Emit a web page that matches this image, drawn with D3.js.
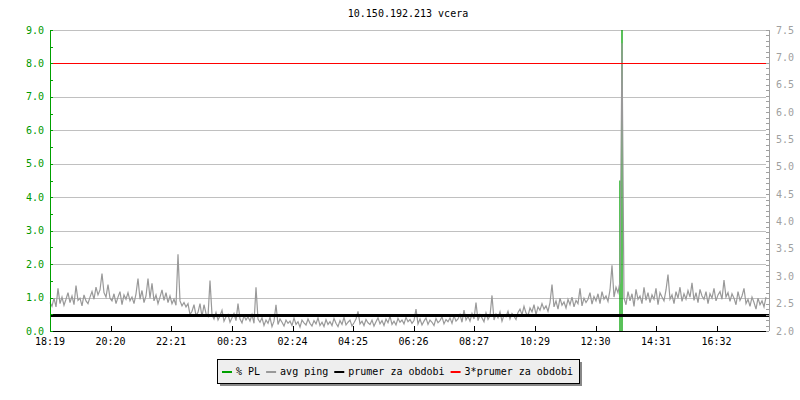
<!DOCTYPE html>
<html><head><meta charset="utf-8">
<script src="https://cdn.jsdelivr.net/npm/d3@7"></script>
<style>
body{margin:0;background:#fff}
svg{display:block}
text{font-family:"DejaVu Sans Mono","Liberation Mono",monospace;font-size:10px}
</style>
</head><body><svg id="c" width="800" height="400"></svg>
<script>
// ---------- data ----------
const chartTitle = "10.150.192.213 vcera";
const startDay = "2024-01-01";
const startClock = "18:19";
const stepMinutes = 4;
const spanMinutes = 1432;
const tickLabels = ["18:19","20:20","22:21","00:23","02:24","04:25","06:26","08:27","10:29","12:30","14:31","16:32"];
const leftTicks = [0,1,2,3,4,5,6,7,8,9];
const rightTicks = [2.0,2.5,3.0,3.5,4.0,4.5,5.0,5.5,6.0,6.5,7.0,7.5];
// avg ping (ms), right axis, one sample every 4 minutes
const avgPing = [
2.52,2.45,2.60,2.44,2.78,2.50,2.62,2.47,2.58,2.70,2.52,2.64,2.48,2.83,2.56,2.60,2.46,2.66,2.55,2.50,
2.62,2.72,2.58,2.80,2.66,2.75,3.05,2.70,2.62,2.85,2.60,2.55,2.68,2.50,2.62,2.72,2.48,2.66,2.58,2.70,
2.55,2.62,2.50,2.68,2.96,2.58,2.74,2.52,2.64,2.96,2.60,2.87,2.55,2.66,2.50,2.62,2.75,2.56,2.70,2.52,
2.64,2.50,2.58,2.47,3.40,2.55,2.46,2.52,2.44,2.50,2.30,2.36,2.48,2.28,2.34,2.50,2.26,2.48,2.32,2.27,
2.92,2.30,2.22,2.34,2.20,2.28,2.38,2.18,2.26,2.30,2.16,2.24,2.32,2.19,2.50,2.22,2.15,2.28,2.20,2.26,
2.18,2.30,2.14,2.80,2.22,2.16,2.24,2.10,2.20,2.14,2.25,2.08,2.18,2.48,2.12,2.22,2.16,2.09,2.20,2.14,
2.18,2.10,2.24,2.12,2.17,2.07,2.20,2.15,2.11,2.22,2.14,2.09,2.19,2.13,2.24,2.10,2.16,2.08,2.21,2.12,
2.17,2.10,2.23,2.14,2.08,2.19,2.12,2.25,2.11,2.16,2.20,2.09,2.15,2.22,2.36,2.13,2.18,2.10,2.21,2.15,
2.12,2.20,2.09,2.17,2.24,2.13,2.19,2.10,2.22,2.15,2.27,2.12,2.18,2.11,2.23,2.16,2.20,2.13,2.25,2.17,
2.21,2.14,2.19,2.40,2.13,2.22,2.11,2.18,2.24,2.12,2.20,2.16,2.10,2.23,2.15,2.19,2.26,2.13,2.21,2.17,
2.24,2.14,2.28,2.18,2.22,2.30,2.16,2.38,2.20,2.27,2.18,2.32,2.22,2.52,2.19,2.30,2.24,2.17,2.33,2.21,
2.28,2.65,2.20,2.31,2.24,2.35,2.18,2.29,2.26,2.36,2.22,2.32,2.27,2.21,2.34,2.40,2.30,2.45,2.33,2.28,
2.42,2.35,2.48,2.30,2.44,2.38,2.50,2.40,2.46,2.36,2.52,2.85,2.44,2.55,2.40,2.60,2.47,2.53,2.42,2.58,
2.48,2.62,2.44,2.56,2.50,2.78,2.46,2.60,2.52,2.58,2.70,2.49,2.63,2.55,2.68,2.50,2.72,2.58,2.64,2.54,
2.75,3.20,2.62,2.80,2.70,2.90,7.26,2.60,2.48,2.72,2.55,2.68,2.45,2.76,2.58,2.64,2.50,2.80,2.56,2.70,
2.52,2.66,2.58,2.78,2.48,2.70,2.62,2.55,2.75,3.03,2.58,2.66,2.50,2.72,2.60,2.80,2.54,2.68,2.58,2.74,
2.62,2.88,2.56,2.70,2.52,2.76,2.64,2.58,2.72,2.50,2.68,2.60,2.78,2.55,2.66,2.72,2.58,2.93,2.62,2.70,
2.54,2.68,2.60,2.48,2.72,2.56,2.64,2.78,2.50,2.58,2.45,2.62,2.52,2.40,2.60,2.48,2.55,2.44,2.62
];
// packet loss (%), left axis: only non-zero samples
const plMinutes = [1140, 1144];
const plValues = [4.5, 9.0];
const periodAvg = [2.285];   // prumer za obdobi (ms)
const tripleAvg = [6.90];    // 3*prumer za obdobi (ms)
const legendLabels = ["% PL","avg ping","prumer za obdobi","3*prumer za obdobi"];
const legendColors = ["#00a000","#999999","#000000","#ff0000"];

// ---------- chart ----------
const svg = d3.select("#c");
const parse = d3.timeParse("%Y-%m-%d %H:%M");
const t0 = parse(startDay + " " + startClock);
const addMin = m => new Date(t0.getTime() + m * 60000);

const x = d3.scaleTime().domain([t0, addMin(spanMinutes)]).range([50, 766]);
const yL = d3.scaleLinear().domain([0, 9]).range([331, 30]);
const yR = d3.scaleLinear().domain([2, 7.5]).range([331, 30]);

// tick dates from labels (wrap past midnight)
let prev = -1, dayOff = 0;
const [h0, m0] = startClock.split(":").map(Number);
const tickDates = tickLabels.map(l => {
  const [h, m] = l.split(":").map(Number);
  let mins = h * 60 + m;
  if (prev >= 0 && mins + dayOff < prev) dayOff += 1440;
  mins += dayOff; prev = mins;
  return addMin(mins - (h0 * 60 + m0));
});

const crisp = v => Math.round(v) + 0.5;

// title
svg.append("text").attr("x", 408).attr("y", 17).attr("text-anchor", "middle")
  .attr("fill", "#000").text(chartTitle);

// gridlines
svg.append("g").selectAll("line").data(leftTicks.filter(d => d > 0)).join("line")
  .attr("x1", 50).attr("x2", 766)
  .attr("y1", d => crisp(yL(d))).attr("y2", d => crisp(yL(d)))
  .attr("stroke", "#c0c0c0").attr("stroke-width", 1);

// packet loss spikes
svg.append("g").selectAll("line").data(plValues).join("line")
  .attr("x1", (d, i) => x(addMin(plMinutes[i]))).attr("x2", (d, i) => x(addMin(plMinutes[i])))
  .attr("y1", yL(0)).attr("y2", d => yL(d))
  .attr("stroke", legendColors[0]).attr("stroke-width", 1.3);

// avg ping line
const line = d3.line().x((d, i) => x(addMin(i * stepMinutes))).y(d => yR(d));
svg.append("path").datum(avgPing).attr("d", line)
  .attr("fill", "none").attr("stroke", legendColors[1]).attr("stroke-width", 1.2)
  .attr("stroke-linejoin", "miter");

// period average
svg.append("g").selectAll("line").data(periodAvg).join("line")
  .attr("x1", 50).attr("x2", 769)
  .attr("y1", d => yR(d)).attr("y2", d => yR(d))
  .attr("stroke", legendColors[2]).attr("stroke-width", 3);

// 3x average
svg.append("g").selectAll("line").data(tripleAvg).join("line")
  .attr("x1", 50).attr("x2", 766)
  .attr("y1", d => crisp(yR(d))).attr("y2", d => crisp(yR(d)))
  .attr("stroke", legendColors[3]).attr("stroke-width", 1);

// bottom axis
const gx = svg.append("g").attr("transform", "translate(0,331)");
gx.append("line").attr("x1", 50).attr("x2", 766).attr("y1", 0.5).attr("y2", 0.5).attr("stroke", "#000");
gx.selectAll(".tk").data(tickDates).join("line")
  .attr("x1", d => crisp(x(d))).attr("x2", d => crisp(x(d)))
  .attr("y1", -5).attr("y2", 0).attr("stroke", "#000");
gx.selectAll("text").data(tickDates).join("text")
  .attr("x", d => x(d)).attr("y", 14).attr("text-anchor", "middle")
  .attr("fill", "#000").text((d, i) => tickLabels[i]);

// left axis (green)
const gl = svg.append("g");
gl.append("line").attr("x1", 50.5).attr("x2", 50.5).attr("y1", 30).attr("y2", 331).attr("stroke", "#00a000");
const halfTicks = d3.range(0, 9.01, 0.5);
gl.selectAll(".t").data(halfTicks).join("line")
  .attr("x1", 50).attr("x2", 53)
  .attr("y1", d => crisp(yL(d))).attr("y2", d => crisp(yL(d)))
  .attr("stroke", "#00a000");
gl.selectAll("text").data(leftTicks).join("text")
  .attr("x", 44).attr("y", d => yL(d) + 3.5).attr("text-anchor", "end")
  .attr("fill", "#009900").text(d => d.toFixed(1));

// right axis (gray)
const gr = svg.append("g");
gr.append("line").attr("x1", 769.5).attr("x2", 769.5).attr("y1", 30).attr("y2", 331).attr("stroke", "#a0a0a0");
const minorR = d3.range(2.0, 7.501, 0.1);
gr.selectAll(".t").data(minorR).join("line")
  .attr("x1", 766).attr("x2", 769)
  .attr("y1", d => crisp(yR(d))).attr("y2", d => crisp(yR(d)))
  .attr("stroke", "#a0a0a0");
gr.selectAll("text").data(rightTicks).join("text")
  .attr("x", 776).attr("y", d => yR(d) + 3.5).attr("text-anchor", "start")
  .attr("fill", "#a0a0a0").text(d => d.toFixed(1));

// legend
const lg = svg.append("g");
lg.append("rect").attr("x", 220).attr("y", 362).attr("width", 362).attr("height", 24).attr("fill", "#888");
lg.append("rect").attr("x", 217.5).attr("y", 359.5).attr("width", 362).attr("height", 24)
  .attr("fill", "#eeeeee").attr("stroke", "#000");
let lx = 222;
legendLabels.forEach((lab, i) => {
  lg.append("line").attr("x1", lx).attr("x2", lx + 10).attr("y1", 372).attr("y2", 372)
    .attr("stroke", legendColors[i]).attr("stroke-width", 2);
  const t = lg.append("text").attr("x", lx + 14).attr("y", 375).attr("fill", "#000").text(lab);
  const w = t.node().getComputedTextLength();
  lx += 14 + w + 6;
});
</script>
</body></html>
